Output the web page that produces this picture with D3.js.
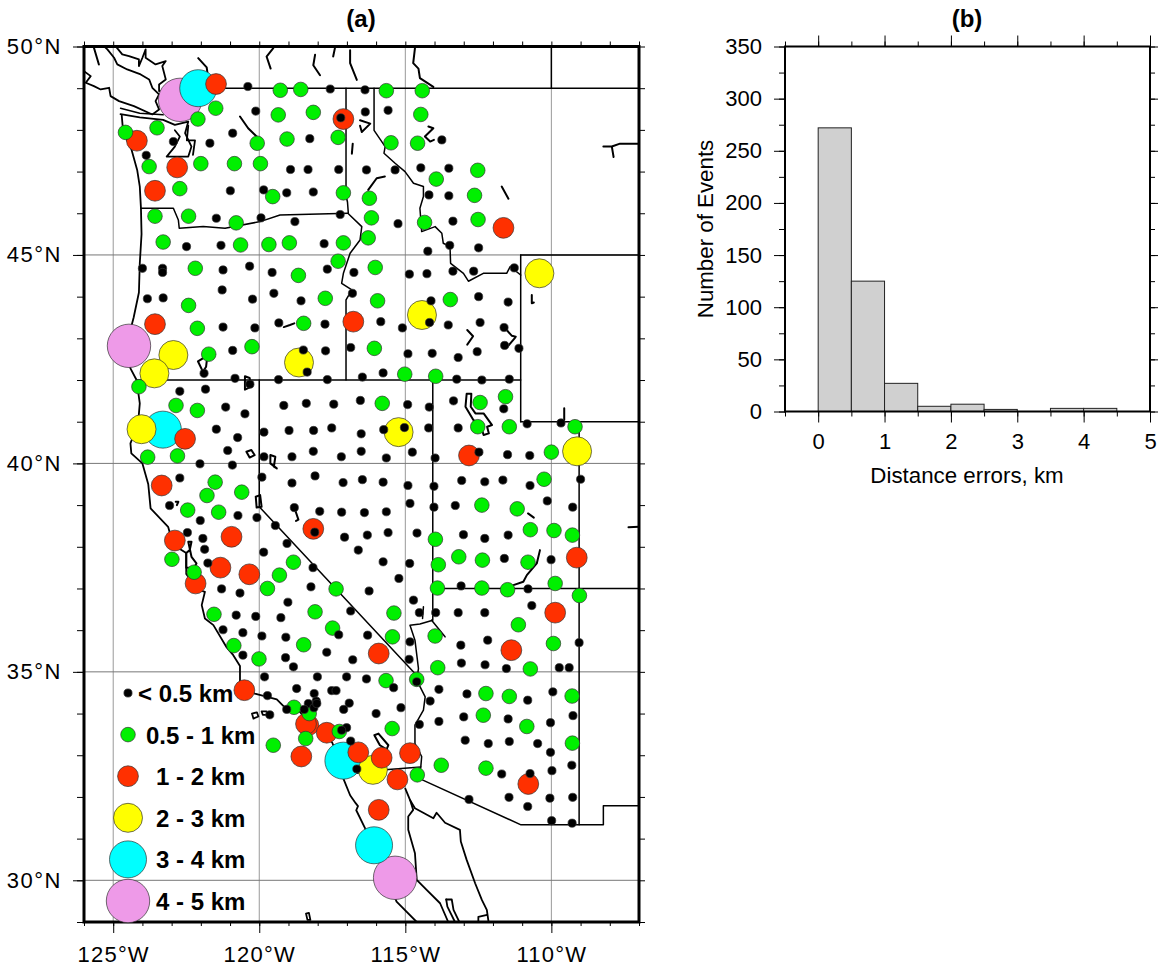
<!DOCTYPE html>
<html>
<head>
<meta charset="utf-8">
<style>
	html, body { margin: 0; padding: 0; background: #fff; }
	svg { display: block; }
	text { font-family: "Liberation Sans", Arial, sans-serif; fill: #000; }
</style>
<script src="https://cdn.jsdelivr.net/npm/d3@7"></script>
</head>
<body>
<div id="main"></div>
<script>
///////////////////////////////////////
// Events by distance error class, [lon, lat]
var eventsUnder05 = [[-120.39,49.04],[-117.57,48.98],[-116.38,48.96],[-120.12,48.45],[-116.37,48.43],[-115.59,48.47],[-117.21,48.29],[-120.91,47.92],[-121.69,47.68],[-122.94,47.72],[-118.27,47.79],[-113.75,47.76],[-123.87,47.39],[-118.93,47.05],[-118.33,47.05],[-117.28,47.05],[-116.33,47.04],[-115.35,47.04],[-114.47,47.09],[-113.51,47.08],[-120.99,46.54],[-119.85,46.56],[-119.06,46.49],[-118.15,46.51],[-114.19,46.44],[-113.51,46.42],[-121.47,45.88],[-119.94,45.89],[-118.78,45.80],[-117.23,45.97],[-115.25,45.75],[-113.37,45.81],[-122.49,45.20],[-121.31,45.23],[-117.78,45.27],[-113.48,45.23],[-112.49,45.17],[-114.23,45.09],[-124.0,44.68],[-123.31,44.68],[-123.31,44.58],[-121.24,44.64],[-120.33,44.73],[-119.56,44.58],[-117.67,44.66],[-116.76,44.58],[-114.86,44.54],[-114.26,44.55],[-113.37,44.61],[-112.66,44.61],[-111.27,44.69],[-123.83,43.95],[-123.29,43.97],[-121.27,44.16],[-120.23,43.94],[-119.50,44.08],[-118.57,43.90],[-116.81,44.08],[-114.12,43.90],[-112.49,44.0],[-111.48,43.87],[-115.84,43.40],[-114.17,43.38],[-115.10,43.25],[-113.53,43.32],[-112.44,43.38],[-111.62,43.26],[-121.24,43.27],[-120.15,43.25],[-119.33,43.37],[-117.75,43.34],[-120.91,42.71],[-118.49,42.72],[-117.73,42.70],[-116.87,42.78],[-118.36,42.19],[-121.89,42.16],[-120.83,42.04],[-120.32,41.90],[-119.34,42.01],[-117.67,42.01],[-116.47,42.07],[-114.91,42.63],[-114.08,42.64],[-113.19,42.54],[-112.54,42.68],[-111.60,42.83],[-111.11,42.76],[-115.76,42.17],[-113.24,42.02],[-112.38,42.0],[-111.44,42.02],[-122.72,41.73],[-121.84,41.78],[-121.15,41.35],[-120.49,41.19],[-119.16,41.39],[-118.39,41.44],[-117.45,41.42],[-116.54,41.51],[-114.92,41.41],[-114.18,41.35],[-113.35,41.50],[-111.63,41.31],[-110.83,40.95],[-109.67,40.97],[-121.47,40.82],[-120.74,40.62],[-119.84,40.75],[-118.98,40.79],[-118.14,40.79],[-117.52,40.85],[-116.51,40.71],[-115.74,40.81],[-115.03,40.86],[-114.20,40.85],[-113.19,40.85],[-121.08,40.31],[-119.84,40.16],[-118.88,40.16],[-118.15,40.29],[-117.19,40.16],[-116.51,40.29],[-115.65,40.13],[-114.76,40.27],[-113.98,40.13],[-112.48,40.27],[-111.50,40.21],[-110.74,40.19],[-122.03,39.99],[-120.92,39.96],[-122.72,39.65],[-119.91,39.67],[-118.88,39.53],[-118.09,39.70],[-117.13,39.54],[-116.47,39.61],[-115.76,39.55],[-114.91,39.47],[-114.02,39.45],[-113.07,39.59],[-112.28,39.56],[-111.66,39.60],[-110.73,39.47],[-109.0,39.62],[-114.84,39.04],[-114.02,38.95],[-113.29,38.99],[-110.14,39.10],[-109.27,38.95],[-116.40,38.82],[-115.65,38.84],[-123.07,38.99],[-120.73,38.75],[-120.08,38.70],[-122.02,38.63],[-118.80,38.94],[-117.93,38.85],[-117.18,38.83],[-119.45,38.51],[-118.10,38.35],[-117.08,38.23],[-116.30,38.28],[-115.59,38.34],[-114.60,38.33],[-113.01,38.29],[-112.28,38.20],[-111.48,38.28],[-122.46,38.34],[-121.93,38.20],[-121.87,37.94],[-119.85,37.87],[-119.05,38.08],[-116.61,37.92],[-121.76,37.61],[-118.16,37.50],[-115.76,37.64],[-114.85,37.60],[-111.61,37.72],[-110.01,37.69],[-121.29,36.99],[-120.66,36.89],[-118.23,37.04],[-116.24,36.94],[-115.22,37.24],[-113.09,37.06],[-110.80,36.99],[-119.02,36.67],[-116.87,36.46],[-120.79,36.36],[-120.12,36.33],[-119.26,36.30],[-114.72,36.72],[-114.52,36.42],[-113.96,36.42],[-113.19,36.42],[-112.28,36.42],[-110.67,36.59],[-121.24,36.01],[-120.56,35.94],[-119.91,35.86],[-119.09,35.83],[-117.28,35.89],[-116.29,35.88],[-114.84,35.72],[-112.18,35.76],[-113.10,35.64],[-109.05,35.70],[-114.87,35.30],[-113.08,35.21],[-112.27,35.17],[-111.54,35.08],[-109.73,35.10],[-109.39,35.10],[-120.56,35.40],[-119.10,35.34],[-118.83,35.12],[-117.69,35.47],[-116.80,35.29],[-119.82,34.88],[-118.01,34.88],[-117.01,34.88],[-116.33,34.83],[-118.72,34.60],[-117.52,34.55],[-117.37,34.55],[-118.12,34.48],[-119.72,34.43],[-116.92,34.25],[-117.11,34.10],[-116.0,34.0],[-119.06,34.10],[-119.64,33.97],[-118.05,34.30],[-118.32,34.24],[-118.13,34.14],[-118.46,34.10],[-118.03,34.24],[-115.15,34.14],[-117.01,33.66],[-117.18,33.60],[-116.87,33.34],[-116.66,32.67],[-114.52,33.74],[-114.15,34.30],[-115.40,34.62],[-113.85,34.58],[-114.61,34.76],[-113.85,33.81],[-112.89,34.47],[-110.81,34.32],[-109.95,34.52],[-113.0,33.92],[-111.48,33.87],[-110.03,33.78],[-109.26,33.95],[-112.95,33.36],[-112.16,33.28],[-111.44,33.33],[-110.47,33.28],[-110.03,33.07],[-109.98,32.63],[-109.30,32.76],[-111.70,32.55],[-110.73,32.56],[-111.45,31.99],[-112.82,31.94],[-110.81,31.77],[-110.05,31.97],[-109.27,31.99],[-109.99,31.43],[-109.29,31.37]];
var events05to1 = [[-124.58,47.94],[-123.50,48.05],[-122.10,48.26],[-121.49,48.52],[-119.28,48.95],[-118.58,48.97],[-119.35,48.36],[-118.15,48.42],[-119.05,47.78],[-117.30,47.82],[-120.07,47.68],[-122.0,47.19],[-120.85,47.19],[-119.96,47.19],[-123.77,47.12],[-122.72,46.59],[-119.54,46.40],[-117.12,46.49],[-116.23,46.36],[-116.16,45.89],[-116.27,45.41],[-123.57,45.93],[-122.42,45.93],[-120.79,45.77],[-123.29,45.31],[-120.64,45.24],[-119.67,45.25],[-118.97,45.29],[-117.12,45.29],[-122.19,44.68],[-118.66,44.51],[-117.30,44.85],[-116.03,44.70],[-117.74,43.96],[-115.95,43.90],[-122.42,43.79],[-118.48,43.36],[-122.12,43.24],[-120.25,42.80],[-121.73,42.62],[-116.06,42.76],[-124.12,41.84],[-122.85,41.39],[-122.12,41.27],[-123.82,40.15],[-122.80,40.18],[-121.51,39.55],[-121.79,39.23],[-120.60,39.31],[-122.45,38.88],[-121.39,38.83],[-122.99,37.70],[-122.23,37.39],[-118.83,37.63],[-119.31,37.32],[-119.72,37.0],[-117.37,36.99],[-118.09,36.44],[-121.55,36.38],[-117.49,36.05],[-120.87,35.63],[-120.01,35.31],[-118.48,35.65],[-115.79,41.44],[-115.02,42.14],[-113.96,42.09],[-112.44,41.46],[-111.57,41.60],[-112.52,40.88],[-111.44,40.88],[-109.19,40.88],[-110.0,40.27],[-110.25,39.62],[-112.38,39.0],[-111.17,38.91],[-110.72,38.41],[-109.91,38.39],[-109.28,38.28],[-113.97,38.18],[-113.87,37.57],[-113.17,37.76],[-112.36,37.68],[-110.80,37.63],[-113.90,37.01],[-112.38,37.01],[-111.50,36.97],[-109.87,37.12],[-109.04,36.83],[-115.39,36.41],[-111.13,36.13],[-115.44,35.84],[-113.98,35.86],[-109.93,35.68],[-113.89,35.10],[-110.72,35.07],[-114.61,34.82],[-115.66,34.79],[-112.24,34.48],[-111.44,34.41],[-109.29,34.42],[-112.33,33.96],[-110.84,33.69],[-115.45,33.64],[-109.28,33.29],[-112.24,32.69],[-113.77,32.76],[-114.59,32.53],[-118.81,34.15],[-118.29,34.0],[-118.41,33.40],[-117.26,33.57],[-119.52,33.24],[-115.65,48.94],[-114.42,48.94],[-114.47,48.37],[-115.49,47.69],[-114.58,47.68],[-112.52,47.03],[-113.94,46.82],[-112.63,46.43],[-112.51,45.85],[-114.34,45.78],[-113.46,43.93]];
var events1to2 = [[-121.48,49.10],[-117.12,48.26],[-124.19,47.74],[-122.81,47.10],[-123.57,46.54],[-111.64,45.65],[-123.57,43.34],[-116.78,43.40],[-122.54,40.59],[-123.34,39.47],[-122.89,38.15],[-120.95,38.24],[-118.15,38.43],[-121.33,37.50],[-120.34,37.34],[-122.18,37.12],[-112.82,40.19],[-109.13,37.74],[-109.87,36.42],[-111.37,35.52],[-115.91,35.44],[-120.51,34.56],[-118.32,33.72],[-118.40,33.75],[-117.69,33.54],[-118.56,32.97],[-116.61,33.07],[-115.81,32.94],[-114.84,33.05],[-115.27,32.42],[-115.91,31.69],[-110.79,32.31]];
var events2to3 = [[-110.41,44.56],[-114.43,43.56],[-122.94,42.60],[-123.59,42.16],[-118.64,42.42],[-124.03,40.82],[-115.23,40.75],[-109.12,40.29],[-116.11,32.65]];
var events3to4 = [[-122.09,49.0],[-123.30,40.81],[-117.12,32.87],[-116.07,30.84]];
var events4to5 = [[-122.71,48.72],[-124.46,42.82],[-115.35,30.06]];

var classLabels = ["< 0.5 km","0.5 - 1 km","1 - 2 km","2 - 3 km","3 - 4 km","4 - 5 km"];

// Histogram panel
var binStarts = [0,0.5,1,1.5,2,2.5,3,3.5,4,4.5];
var binCounts = [272,125,27,5,7,2,0,3,3,0];

///////////////////////////////////////
// Coast, borders and lakes as [lon, lat] polylines
var coastLines = [
	[[-124.71,48.36],[-124.66,47.96],[-124.37,47.52],[-124.18,47.04],[-124.09,46.64],[-124.05,46.12],[-124.03,45.5],[-124.09,44.8],[-124.12,44.1],[-124.3,43.5],[-124.55,42.83],[-124.41,42.28],[-124.2,42.0],[-124.09,41.44],[-124.15,40.95],[-124.41,40.48],[-124.38,40.24],[-124.0,40.0],[-123.8,39.5],[-123.72,38.92],[-123.12,38.48],[-122.95,38.05],[-122.5,37.85],[-122.5,37.35],[-122.1,36.97],[-121.86,36.92],[-121.97,36.6],[-121.86,36.28],[-121.57,36.12],[-121.12,35.59],[-120.89,35.4],[-120.66,35.14],[-120.66,34.6],[-120.15,34.48],[-119.4,34.34],[-119.06,34.1],[-118.6,34.04],[-118.42,33.85],[-118.3,33.72],[-118.0,33.65],[-117.5,33.3],[-117.25,32.85],[-117.12,32.44],[-116.89,32.04],[-116.7,31.85],[-116.62,31.78],[-116.68,31.68],[-116.38,31.25],[-116.05,30.8],[-115.75,30.3],[-115.3,29.49],[-114.61,29.0]],
	[[-125.32,50.01],[-125.2,49.93],[-124.97,49.73],[-124.86,49.57],[-124.52,49.45],[-124.06,49.33],[-123.77,49.21],[-123.66,49.01],[-123.43,48.85],[-123.55,48.69],[-123.43,48.49],[-123.66,48.37],[-124.29,48.57],[-124.8,48.69],[-125.09,48.81],[-125.14,49.01],[-125.43,48.97],[-125.66,49.05],[-125.94,49.13],[-125.77,49.29],[-126,49.41]],
	[[-124.92,50.01],[-124.69,49.81],[-124.46,49.77],[-124.12,49.69],[-124.12,49.53],[-124,49.73],[-123.89,49.93],[-123.89,49.73],[-123.55,49.57],[-123.2,49.65],[-123.32,49.53],[-123.2,49.21],[-123.43,49.09],[-123.43,48.93],[-122.9,48.9]],
	[[-124.75,48.38],[-124.09,48.3],[-123.29,48.24],[-122.89,48.12],[-122.43,48.2],[-122.54,47.92],[-122.32,47.6],[-122.43,47.36],[-122.89,47.36],[-123.17,47.36],[-122.89,47.6],[-122.72,47.84],[-122.89,47.99]],
	[[-122.43,48.1],[-122.48,47.75],[-122.2,47.75],[-122.27,47.4]],
	[[-114.84,31.93],[-114.73,31.69],[-114.9,31.53],[-114.9,31.21],[-114.67,30.65],[-114.61,30.01],[-114.27,29.77],[-113.81,29.45],[-113.53,29.0]],
	[[-115.0,32.2],[-114.84,31.93],[-114.67,31.73],[-114.04,31.49],[-113.93,31.62],[-113.64,31.38],[-113.13,31.21],[-113.1,30.93],[-112.9,30.49],[-112.61,29.93],[-112.38,29.53],[-112.21,29.29],[-112.15,29.0]],
	[[-113.6,29.54],[-113.41,29.54],[-113.35,29.29],[-113.15,29.0]],
	[[-113.3,29.0],[-113.56,29.37],[-113.6,29.54]],
	[[-112.5,29.0],[-112.5,29.12],[-112.2,29.17]],
	[[-120.25,34.0],[-120.08,34.03],[-120.03,33.93],[-120.2,33.88],[-120.25,34.0]],
	[[-119.92,34.05],[-119.75,34.05],[-119.72,33.97],[-119.88,33.97],[-119.92,34.05]],
	[[-118.4,29.2],[-118.3,29.22],[-118.25,29.05],[-118.35,29.05],[-118.4,29.2]]
];
var borderLines = [
	[[-122.76,49],[-107,49]],
	[[-110,50],[-110,49]],
	[[-124.75,48.52],[-124.09,48.4],[-123.29,48.36]],
	[[-117.03,49],[-117.03,46.42],[-116.98,46.27],[-116.95,45.99],[-116.49,45.68],[-116.55,45.36],[-116.89,45.04],[-117.12,44.56],[-117.18,44.32],[-116.83,44.16],[-117.03,43.92],[-117.03,42]],
	[[-124.05,46.12],[-122.94,46.12],[-122.77,45.84],[-122.74,45.64],[-121.92,45.68],[-121.17,45.64],[-119.97,45.8],[-119.29,45.96],[-116.95,46.0]],
	[[-124.2,42],[-111.05,42]],
	[[-116.07,49],[-116.07,47.99],[-115.69,47.6],[-115.73,47.44],[-115.35,47.2],[-115.01,47.0],[-114.72,46.72],[-114.38,46.64],[-114.38,46.4],[-114.5,46.12],[-114.44,45.56],[-113.98,45.68],[-113.75,45.52],[-113.7,45.28],[-113.47,45.2],[-113.45,44.8],[-113.01,44.56],[-112.84,44.37],[-112.33,44.56],[-111.53,44.56],[-111.41,44.72],[-111.05,44.52]],
	[[-111.05,45],[-107,45]],
	[[-111.05,45],[-111.05,41]],
	[[-111.05,41],[-107,41]],
	[[-109.05,41],[-109.05,31.33]],
	[[-114.06,42],[-114.06,36.24],[-114.5,36.15],[-114.84,36.12],[-114.67,35.76],[-114.55,35.08],[-114.61,34.8],[-114.32,34.4],[-114.38,34.08],[-114.67,33.72],[-114.67,33.28],[-114.44,32.97],[-114.47,32.72],[-114.55,32.45],[-111.04,31.33],[-108.22,31.33],[-108.22,31.79],[-107,31.79]],
	[[-114.06,37],[-107,37]],
	[[-120,42],[-120,38.96],[-114.67,34.96]],
	[[-117.12,32.53],[-115.58,32.66],[-114.47,32.72]],
	[[-114.38,36.56],[-114.41,36.28]],
	[[-114.1,36.24],[-113.64,35.84]]
];
var lakeLines = [
	[[-120.66,48.32],[-120.38,48.04],[-120.09,47.84]],
	[[-119.52,49.96],[-119.75,49.76],[-119.61,49.47]],
	[[-118.09,49.8],[-118.15,49.55],[-117.92,49.31]],
	[[-117.41,49.96],[-117.47,49.76]],
	[[-116.89,49.91],[-116.89,49.6],[-116.66,49.2]],
	[[-122.09,49.72],[-121.8,49.5],[-121.75,49.24]],
	[[-125.66,49.97],[-125.49,49.57]],
	[[-116.55,48.23],[-116.2,48.15],[-116.49,47.95],[-116.55,48.1]],
	[[-116.8,47.67],[-116.83,47.43]],
	[[-115.7,46.88],[-115.98,46.84],[-116.27,46.56]],
	[[-114.21,48.08],[-114.04,48.04],[-114.33,47.84],[-114.15,47.72],[-114.02,47.76]],
	[[-108.22,47.6],[-107.93,47.6],[-107.87,47.35],[-107.93,47.6],[-107.65,47.67],[-107.42,47.67],[-107,47.67]],
	[[-111.7,46.64],[-111.47,46.35]],
	[[-114.67,49.96],[-114.73,49.6],[-114.55,49.47],[-114.5,49.24],[-114.04,49.03]],
	[[-110.67,44.04],[-110.67,43.84],[-110.6,43.86]],
	[[-109.56,41.32],[-109.56,41.04],[-109.76,40.96]],
	[[-107.36,38.47],[-107,38.48]],
	[[-110.39,37.92],[-110.5,37.6],[-110.84,37.32],[-110.96,37.16],[-111.3,37.08]],
	[[-110.6,38.7],[-110.8,38.8]],
	[[-112.88,43.2],[-112.68,43.05],[-112.88,42.85]],
	[[-119.16,43.27],[-118.95,43.32],[-118.8,43.36]],
	[[-121.93,42.52],[-121.78,42.56],[-121.82,42.32],[-121.93,42.2],[-122.1,42.45],[-121.93,42.52]],
	[[-120.49,42.09],[-120.33,42.05],[-120.27,41.84],[-120.49,41.77],[-120.49,42.09]],
	[[-120.44,40.28],[-120.27,40.32],[-120.16,40.2],[-120.33,40.14],[-120.44,40.28]],
	[[-119.62,40.2],[-119.45,40.16],[-119.5,39.92],[-119.4,39.88],[-119.62,40.0],[-119.62,40.2]],
	[[-120.12,39.2],[-119.97,39.24],[-119.92,38.96],[-120.09,38.94],[-120.12,39.2]],
	[[-122.86,39.08],[-122.77,39.08],[-122.82,39.0]],
	[[-118.78,38.9],[-118.66,38.65],[-118.74,38.62]],
	[[-122.43,38.12],[-122.32,38.12],[-122.38,37.92],[-122.5,37.85],[-122.5,37.5],[-122.23,37.5],[-122.15,37.6],[-122.32,37.76],[-122.43,38.12]],
	[[-116.06,33.48],[-115.92,33.52],[-115.58,33.24],[-115.64,33.14],[-115.87,33.24],[-116.06,33.48]],
	[[-112.9,41.67],[-112.74,41.67],[-112.76,41.36],[-112.6,41.2],[-112.32,41.2],[-112.03,40.92],[-112.2,40.88],[-112.14,40.72],[-112.32,40.68],[-112.44,40.96],[-112.67,41.04],[-112.94,41.36],[-112.9,41.67]],
	[[-111.53,43.2],[-111.35,43.06],[-111.22,43.04],[-111.26,43.0],[-111.5,42.8]]
];

var errorClasses = [
	{data: events4to5, r: 21.7, fill: "#ee9ae8"},
	{data: events3to4, r: 18.5, fill: "#00ffff"},
	{data: events2to3, r: 14.5, fill: "#ffff00"},
	{data: events1to2, r: 10.4, fill: "#ff3000"},
	{data: events05to1, r: 7.3, fill: "#00f000"},
	{data: eventsUnder05, r: 4.1, fill: "#000"}
];

var tickFont = 22;
var svg = d3.select("#main").append("svg").attr("width",1159).attr("height",968);

///////////////////////////////////////
// Panel (a), map
var mapFrame = {left:84, right:639, top:46.5, bottom:922};
var lonScale = d3.scaleLinear().domain([-126,-107]).range([mapFrame.left,mapFrame.right]);
var latScale = d3.scaleLinear().domain([29,50]).range([mapFrame.bottom,mapFrame.top]);
var geoLine = d3.line().x(function(d){return lonScale(d[0]);}).y(function(d){return latScale(d[1]);});

svg.append("clipPath").attr("id","mapClip").append("rect")
	.attr("x",mapFrame.left).attr("y",mapFrame.top)
	.attr("width",mapFrame.right-mapFrame.left).attr("height",mapFrame.bottom-mapFrame.top);

function styleAxis(g,width){
	g.select(".domain").remove();
	g.selectAll("line").attr("stroke","#000").attr("stroke-width",width);
	g.selectAll("text").style("font-size",tickFont+"px").style("font-family",'"Liberation Sans"').attr("fill","#000");
}

var mapAxes = svg.append("g");
var lonMinor = d3.range(-126,-106), latMinor = d3.range(29,51);
var lonMajor = [-125,-120,-115,-110], latMajor = [50,45,40,35,30];

mapAxes.append("g").attr("transform","translate(0,"+mapFrame.bottom+")")
	.call(d3.axisBottom(lonScale).tickValues(lonMinor).tickSize(4).tickFormat("")).call(styleAxis,1);
mapAxes.append("g").attr("transform","translate(0,"+mapFrame.bottom+")")
	.call(d3.axisBottom(lonScale).tickValues(lonMajor).tickSize(11).tickPadding(13)
		.tickFormat(function(d){return Math.abs(d)+"°W";})).call(styleAxis,1)
	.selectAll("text").style("letter-spacing","1.2px");
mapAxes.append("g").attr("transform","translate(0,"+mapFrame.top+")")
	.call(d3.axisTop(lonScale).tickValues(lonMinor).tickSize(5).tickFormat("")).call(styleAxis,1);
mapAxes.append("g").attr("transform","translate("+mapFrame.left+",0)")
	.call(d3.axisLeft(latScale).tickValues(latMinor).tickSize(7).tickFormat("")).call(styleAxis,1);
mapAxes.append("g").attr("transform","translate("+mapFrame.left+",0)")
	.call(d3.axisLeft(latScale).tickValues(latMajor).tickSize(11).tickPadding(11)
		.tickFormat(function(d){return d+"°N";})).call(styleAxis,1)
	.selectAll("text").style("letter-spacing","1.5px");
mapAxes.append("g").attr("transform","translate("+mapFrame.right+",0)")
	.call(d3.axisRight(latScale).tickValues(latMinor).tickSize(6).tickFormat("")).call(styleAxis,1);

// grid
var grid = svg.append("g");
grid.selectAll("line.v").data(lonMajor).enter().append("line").attr("class","v")
	.attr("x1",lonScale).attr("x2",lonScale).attr("y1",mapFrame.top).attr("y2",mapFrame.bottom)
	.attr("stroke","#999").attr("stroke-width",1);
grid.selectAll("line.h").data(latMajor).enter().append("line").attr("class","h")
	.attr("y1",latScale).attr("y2",latScale).attr("x1",mapFrame.left).attr("x2",mapFrame.right)
	.attr("stroke","#777").attr("stroke-width",1);

// coast and borders
var geo = svg.append("g").attr("clip-path","url(#mapClip)").attr("fill","none")
	.attr("stroke","#000").attr("stroke-linejoin","round").attr("stroke-linecap","round");
geo.selectAll("path.coast").data(coastLines).enter().append("path").attr("class","coast")
	.attr("d",geoLine).attr("stroke-width",1.8);
geo.selectAll("path.border").data(borderLines).enter().append("path").attr("class","border")
	.attr("d",geoLine).attr("stroke-width",1.5);
geo.selectAll("path.lake").data(lakeLines).enter().append("path").attr("class","lake")
	.attr("d",geoLine).attr("stroke-width",2);

// events, biggest first so small ones stay on top
var events = svg.append("g");
errorClasses.forEach(function(c){
	events.append("g").selectAll("circle").data(c.data).enter().append("circle")
		.attr("cx",function(d){return lonScale(d[0]);})
		.attr("cy",function(d){return latScale(d[1]);})
		.attr("r",c.r)
		.attr("fill",c.fill)
		.attr("stroke","#333").attr("stroke-width",0.7);
});

// frame
svg.append("rect").attr("x",mapFrame.left).attr("y",mapFrame.top)
	.attr("width",mapFrame.right-mapFrame.left).attr("height",mapFrame.bottom-mapFrame.top)
	.attr("fill","none").attr("stroke","#000").attr("stroke-width",3);

// legend
var legendOrder = errorClasses.slice().reverse();
var legendX = 128, legendY0 = 693, legendStep = 41.6;
var legendTextX = [138,146,156,156,156,156];
var legend = svg.append("g");
legendOrder.forEach(function(c,i){
	var y = legendY0 + i*legendStep;
	legend.append("circle").attr("cx",legendX).attr("cy",y).attr("r",c.r)
		.attr("fill",c.fill).attr("stroke","#333").attr("stroke-width",0.7);
	legend.append("text").attr("x",legendTextX[i]).attr("y",y+9)
		.style("font-size","24px").style("font-weight","bold").text(classLabels[i]);
});

svg.append("text").attr("x",361).attr("y",27).attr("text-anchor","middle")
	.style("font-size","24px").style("font-weight","bold").text("(a)");

///////////////////////////////////////
// Panel (b), histogram
var histFrame = {left:785, right:1150, top:46.5, bottom:411.5};
var binWidth = 0.5;
var xScale = d3.scaleLinear().domain([-0.5,5]).range([histFrame.left,histFrame.right]);
var yScale = d3.scaleLinear().domain([0,350]).range([histFrame.bottom,histFrame.top]);

var xMinor = d3.range(-0.5,5.01,0.5), xMajor = d3.range(0,6);
var yMinor = d3.range(0,351,25), yMajor = d3.range(0,351,50);
var histAxes = svg.append("g");

histAxes.append("g").attr("transform","translate(0,"+histFrame.bottom+")")
	.call(d3.axisBottom(xScale).tickValues(xMinor).tickSize(5).tickFormat("")).call(styleAxis,1);
histAxes.append("g").attr("transform","translate(0,"+histFrame.bottom+")")
	.call(d3.axisBottom(xScale).tickValues(xMajor).tickSize(11).tickPadding(11).tickFormat(d3.format("d"))).call(styleAxis,1);
histAxes.append("g").attr("transform","translate(0,"+histFrame.top+")")
	.call(d3.axisTop(xScale).tickValues(xMinor).tickSize(5).tickFormat("")).call(styleAxis,1);
histAxes.append("g").attr("transform","translate(0,"+histFrame.top+")")
	.call(d3.axisTop(xScale).tickValues(xMajor).tickSize(11).tickFormat("")).call(styleAxis,1);
histAxes.append("g").attr("transform","translate("+histFrame.left+",0)")
	.call(d3.axisLeft(yScale).tickValues(yMinor).tickSize(6).tickFormat("")).call(styleAxis,1);
histAxes.append("g").attr("transform","translate("+histFrame.left+",0)")
	.call(d3.axisLeft(yScale).tickValues(yMajor).tickSize(11).tickPadding(12).tickFormat(d3.format("d"))).call(styleAxis,1);
histAxes.append("g").attr("transform","translate("+histFrame.right+",0)")
	.call(d3.axisRight(yScale).tickValues(yMinor).tickSize(5).tickFormat("")).call(styleAxis,1);
histAxes.append("g").attr("transform","translate("+histFrame.right+",0)")
	.call(d3.axisRight(yScale).tickValues(yMajor).tickSize(8).tickFormat("")).call(styleAxis,1);

svg.append("g").selectAll("rect").data(binCounts).enter().append("rect")
	.attr("x",function(d,i){return xScale(binStarts[i]);})
	.attr("width",function(d,i){return xScale(binStarts[i]+binWidth)-xScale(binStarts[i]);})
	.attr("y",function(d){return yScale(d);})
	.attr("height",function(d){return histFrame.bottom-yScale(d);})
	.attr("fill","#d0d0d0").attr("stroke","#222").attr("stroke-width",1);

svg.append("rect").attr("x",histFrame.left).attr("y",histFrame.top)
	.attr("width",histFrame.right-histFrame.left).attr("height",histFrame.bottom-histFrame.top)
	.attr("fill","none").attr("stroke","#000").attr("stroke-width",2);

svg.append("text").attr("x",967).attr("y",27).attr("text-anchor","middle")
	.style("font-size","24px").style("font-weight","bold").text("(b)");
svg.append("text").attr("x",967).attr("y",483).attr("text-anchor","middle")
	.style("font-size","22.3px").text("Distance errors, km");
svg.append("text").attr("transform","translate(713,229) rotate(-90)").attr("text-anchor","middle")
	.style("font-size","22.3px").text("Number of Events");
</script>
</body>
</html>
